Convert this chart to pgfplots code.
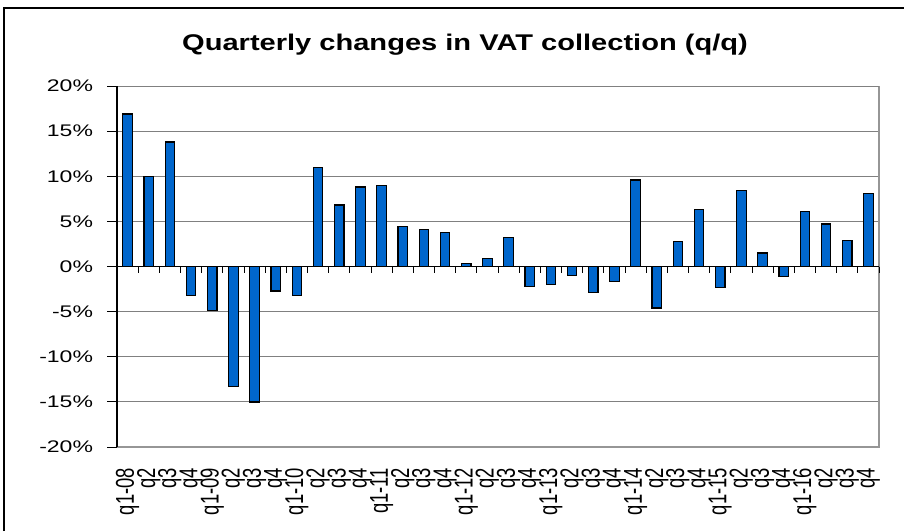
\documentclass[border=0pt]{standalone}
\usepackage{pgfplots}
\pgfplotsset{compat=1.18}
\usepackage{fontspec}
\setmainfont{Liberation Sans}
\usepackage{graphicx}
\definecolor{barblue}{RGB}{0,102,204}
\definecolor{gridgray}{RGB}{128,128,128}
\definecolor{boxgray}{RGB}{150,150,150}
\newcommand{\sy}[1]{\scalebox{1.37}[1]{#1}}
\newcommand{\sx}[1]{\scalebox{1}[1.4]{#1}}
\begin{document}
\begin{tikzpicture}[x=1pt,y=1pt]
\useasboundingbox (0,0) rectangle (904,531);
\draw[black, line width=1.5pt] (4,0) -- (4,523) -- (904,523);
\node[font=\fontsize{22.7}{24}\selectfont\bfseries] at (465,486) {\scalebox{1.28}[1]{Quarterly changes in VAT collection (q/q)}};
\begin{axis}[
  at={(117pt,84pt)}, anchor=south west,
  scale only axis, width=762pt, height=361pt,
  xmin=0.5, xmax=36.5, ymin=-20, ymax=20,
  axis line style={draw=none},
  ytick={-20,-15,-10,-5,0,5,10,15,20},
  yticklabels={\sy{-20\%},\sy{-15\%},\sy{-10\%},\sy{-5\%},\sy{0\%},\sy{5\%},\sy{10\%},\sy{15\%},\sy{20\%}},
  yticklabel style={font=\fontsize{16.8}{18}\selectfont, inner sep=0pt, outer xsep=14pt},
  ytick style={black, line width=1pt},
  ytick pos=left,
  tick align=outside, major tick length=10pt,
  ymajorgrids, grid style={gridgray, line width=1pt},
  xtick={1,...,36},
  xtick style={draw=none},
  xticklabels={\sx{q1-08},\sx{q2},\sx{q3},\sx{q4},\sx{q1-09},\sx{q2},\sx{q3},\sx{q4},\sx{q1-10},\sx{q2},\sx{q3},\sx{q4},\sx{q1-11},\sx{q2},\sx{q3},\sx{q4},\sx{q1-12},\sx{q2},\sx{q3},\sx{q4},\sx{q1-13},\sx{q2},\sx{q3},\sx{q4},\sx{q1-14},\sx{q2},\sx{q3},\sx{q4},\sx{q1-15},\sx{q2},\sx{q3},\sx{q4},\sx{q1-16},\sx{q2},\sx{q3},\sx{q4}},
  xticklabel style={font=\fontsize{18.4}{20}\selectfont, rotate=90, anchor=east, inner sep=0pt, outer xsep=11pt},
  clip=false,
]
\addplot[ybar, bar width=9.5pt, fill=barblue, draw=black, line width=1.3pt] coordinates {
(1,16.9) (2,10.0) (3,13.8) (4,-3.2) (5,-4.9) (6,-13.3) (7,-15.0) (8,-2.7) (9,-3.2)
(10,11.0) (11,6.8) (12,8.8) (13,9.0) (14,4.4) (15,4.1) (16,3.8) (17,0.3) (18,0.9)
(19,3.2) (20,-2.2) (21,-2.0) (22,-1.0) (23,-2.9) (24,-1.7) (25,9.6) (26,-4.6) (27,2.8)
(28,6.3) (29,-2.3) (30,8.4) (31,1.5) (32,-1.1) (33,6.1) (34,4.7) (35,2.9) (36,8.1)
};
\draw[boxgray, line width=1.5pt] (rel axis cs:0,0) -- (rel axis cs:1,0) -- (rel axis cs:1,1);
\draw[gridgray, line width=1pt] (rel axis cs:0,1) -- (rel axis cs:1,1);
\draw[black, line width=1.2pt] (rel axis cs:0,0) -- (rel axis cs:0,1);
\draw[black, line width=1.2pt] (axis cs:0.5,0) -- (axis cs:36.5,0);
\pgfplotsinvokeforeach{1.5,2.5,...,36.5}{ \draw[black, line width=0.8pt] (axis cs:#1,0) -- ++(0pt,-6pt); }
\end{axis}
\end{tikzpicture}
\end{document}
